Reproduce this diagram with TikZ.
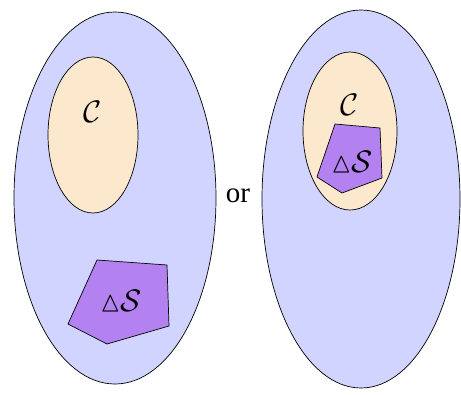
\documentclass[tikz,border=0pt]{standalone}
\usepackage{amssymb}
\usepackage{fontspec}
\setmainfont{Liberation Serif}
\usetikzlibrary{shapes.geometric}
\definecolor{outerc}{RGB}{208,212,255}
\definecolor{innerc}{RGB}{252,232,204}
\definecolor{polyc}{RGB}{180,130,240}
\newcommand{\mylargemath}[1]{\scalebox{1.25}{\fontsize{24}{28}\selectfont$#1$}}
\newcommand{\mytri}{\mathord{\scalebox{0.95}{$\vartriangle$}}}
\begin{document}
\begin{tikzpicture}[x=1pt,y=-1pt,
  outerset/.style={draw=black, fill=outerc, line width=0.7pt},
  innerset/.style={draw=black, fill=innerc, line width=0.7pt},
  polyset/.style={draw=black, fill=polyc, line width=0.7pt, line join=round},
  lbl/.style={font=\fontsize{29}{34}\selectfont, inner sep=0pt}]
\useasboundingbox (0,0) rectangle (461,394);
% left
\draw[outerset] (115,198) ellipse [x radius=101, y radius=186];
\draw[innerset] (93,135) ellipse [x radius=45, y radius=78];
\node[lbl] (c1) at (93,112) {\mylargemath{\mathcal{C}}};
\coordinate (a1) at (97,260);
\coordinate (a2) at (167,265);
\coordinate (a3) at (169,326);
\coordinate (a4) at (107,344);
\coordinate (a5) at (68,324);
\draw[polyset] (a1) -- (a2) -- (a3) -- (a4) -- (a5) -- cycle;
\node[lbl] (s1) at (121,301) {\mylargemath{\mytri\mathcal{S}}};
% or
\node[lbl] (or) at (238,196) {or};
% right
\draw[outerset] (361,199) ellipse [x radius=99, y radius=189];
\draw[innerset] (350,131) ellipse [x radius=47, y radius=79];
\node[lbl] (c2) at (350,105) {\mylargemath{\mathcal{C}}};
\coordinate (b1) at (335,124);
\coordinate (b2) at (380,128);
\coordinate (b3) at (382,178);
\coordinate (b4) at (342,193);
\coordinate (b5) at (317,177);
\draw[polyset] (b1) -- (b2) -- (b3) -- (b4) -- (b5) -- cycle;
\node[lbl] (s2) at (352,162) {\mylargemath{\mytri\mathcal{S}}};
\end{tikzpicture}
\end{document}
